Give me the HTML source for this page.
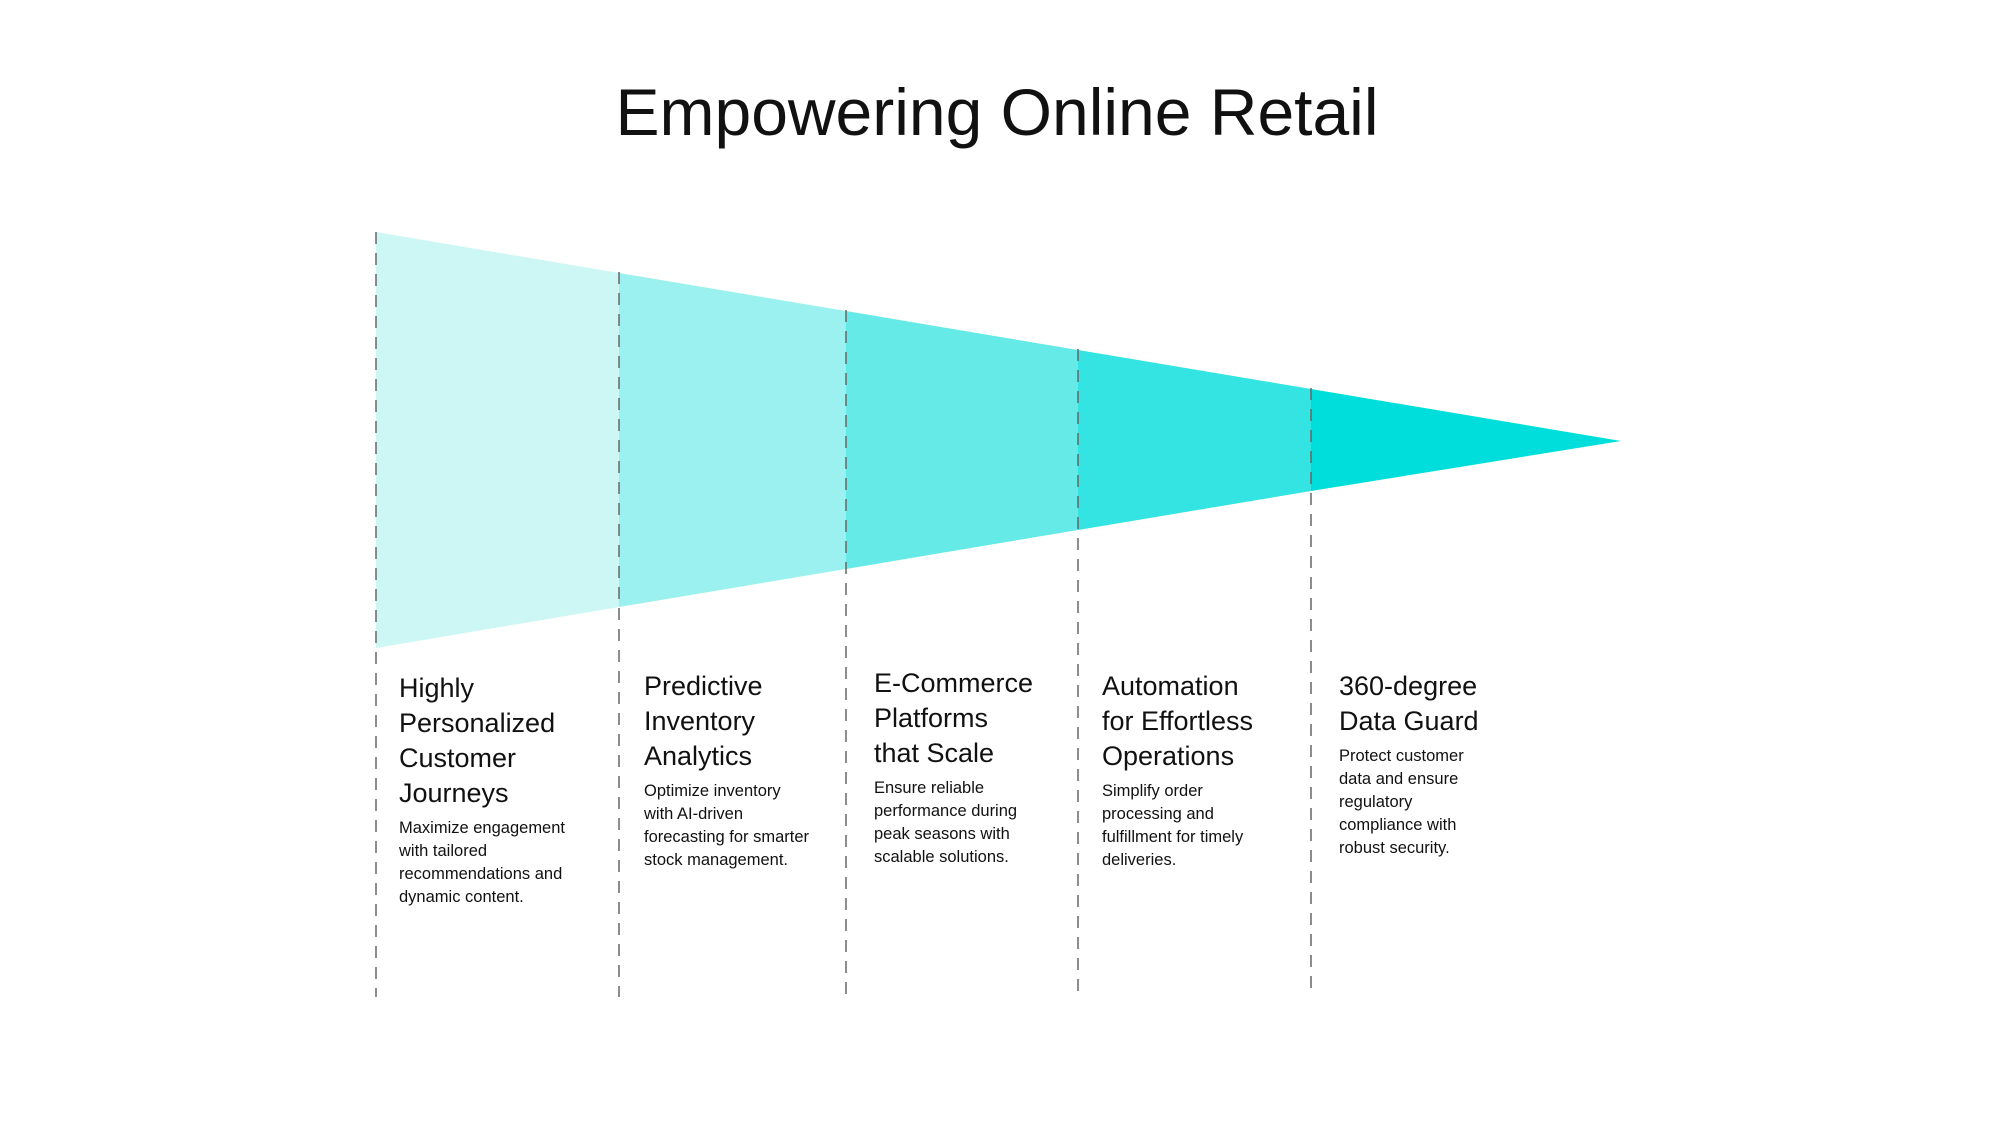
<!DOCTYPE html>
<html><head><meta charset="utf-8"><style>
body{margin:0;width:2000px;height:1125px;background:#fff;position:relative;overflow:hidden;font-family:"Liberation Sans",sans-serif;color:#111}
.t{position:absolute;left:0;width:1994px;text-align:center;top:74px;font-size:66px;letter-spacing:0px}
.c{position:absolute;width:200px}
.h{font-size:27px;line-height:35px}
.b{font-size:16.5px;line-height:23px;margin-top:6px}
</style></head><body>
<div class="t">Empowering Online Retail</div>
<svg width="2000" height="1125" style="position:absolute;left:0;top:0">
<polygon points="376,232 619,273 619,607 376,648" fill="#CCF7F5"/>
<polygon points="619,273 846,311 846,569 619,607" fill="#9AF1F0"/>
<polygon points="846,311 1078,350 1078,530 846,569" fill="#66EAE8"/>
<polygon points="1078,350 1311,389 1311,491 1078,530" fill="#33E4E3"/>
<polygon points="1311,389 1621,441 1311,491" fill="#00DEDC"/>
<g stroke="#666" stroke-width="1.5" stroke-dasharray="12,9">
<line x1="376" y1="232" x2="376" y2="997"/>
<line x1="619" y1="272" x2="619" y2="997"/>
<line x1="846" y1="310" x2="846" y2="997"/>
<line x1="1078" y1="349" x2="1078" y2="997"/>
<line x1="1311" y1="388" x2="1311" y2="997"/>
</g>
</svg>
<div class="c" style="left:399px;top:671px"><div class="h">Highly<br>Personalized<br>Customer<br>Journeys</div><div class="b">Maximize engagement<br>with tailored<br>recommendations and<br>dynamic content.</div></div>
<div class="c" style="left:644px;top:669px"><div class="h">Predictive<br>Inventory<br>Analytics</div><div class="b">Optimize inventory<br>with AI-driven<br>forecasting for smarter<br>stock management.</div></div>
<div class="c" style="left:874px;top:666px"><div class="h">E-Commerce<br>Platforms<br>that Scale</div><div class="b">Ensure reliable<br>performance during<br>peak seasons with<br>scalable solutions.</div></div>
<div class="c" style="left:1102px;top:669px"><div class="h">Automation<br>for Effortless<br>Operations</div><div class="b">Simplify order<br>processing and<br>fulfillment for timely<br>deliveries.</div></div>
<div class="c" style="left:1339px;top:669px"><div class="h">360-degree<br>Data Guard</div><div class="b">Protect customer<br>data and ensure<br>regulatory<br>compliance with<br>robust security.</div></div>
</body></html>
